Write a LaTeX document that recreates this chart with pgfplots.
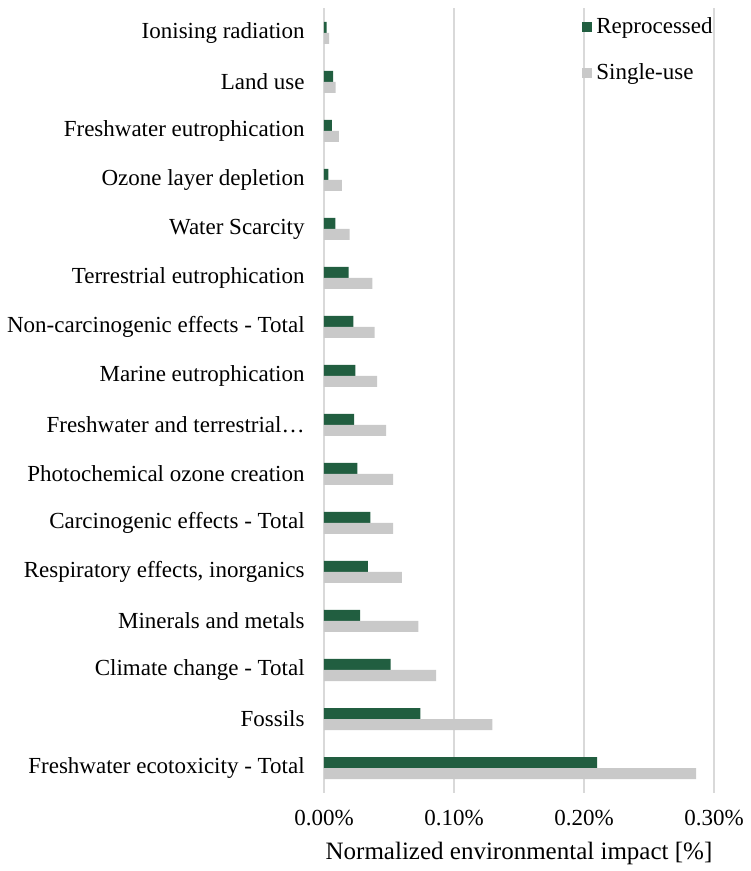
\documentclass[border=0pt]{standalone}
\usepackage{fontspec}
\setmainfont{Liberation Serif}
\usepackage{pgfplots}
\pgfplotsset{compat=1.18}
\definecolor{rep}{HTML}{215E40}
\definecolor{sgl}{HTML}{C9C9C9}
\definecolor{gridc}{HTML}{D9D9D9}
\newcommand{\ff}{\fontsize{11.5}{13.8}\selectfont}
\newcommand{\fl}{\fontsize{12.5}{15}\selectfont}
\begin{document}
\begin{tikzpicture}
\begin{axis}[
  xbar, scale only axis, width=195pt, height=392pt,
  xmin=0, xmax=0.3,
  ymin=-0.5, ymax=15.5,
  ytick={0,...,15},
  yticklabels={Freshwater ecotoxicity - Total, Fossils, Climate change - Total, Minerals and metals, {Respiratory effects, inorganics}, Carcinogenic effects - Total, Photochemical ozone creation, Freshwater and terrestrial…, Marine eutrophication, Non-carcinogenic effects - Total, Terrestrial eutrophication, Water Scarcity, Ozone layer depletion, Freshwater eutrophication, Land use, Ionising radiation},
  xtick={0,0.1,0.2,0.3},
  xticklabels={0.00\%,0.10\%,0.20\%,0.30\%},
  xmajorgrids, grid style={gridc, line width=0.7pt},
  axis line style={draw=none},
  tick style={draw=none}, major tick length=0pt,
  yticklabel style={font=\ff, inner sep=0pt, xshift=-9.5pt},
  xticklabel style={font=\ff, inner sep=0pt, yshift=-8.5pt},
  xlabel={\fl Normalized environmental impact [\%]},
  xlabel style={inner sep=0pt, yshift=-8pt},
  bar width=5.5pt,
  legend style={at={(rel axis cs:1,1)}, anchor=north east, draw=none, fill=none,
    font=\ff, row sep=9.5pt, cells={anchor=west}, inner sep=1pt, yshift=-1.5pt, xshift=2.5pt},
  legend image code/.code={\fill[#1] (0pt,-2.5pt) rectangle (5pt,2.5pt);},
  clip=false,
]
\addplot[fill=rep, draw=none, bar shift=2.75pt] coordinates {
(0.210,0) (0.0741,1) (0.0513,2) (0.0277,3) (0.0338,4) (0.0356,5) (0.0256,6) (0.0231,7)
(0.0241,8) (0.0226,9) (0.019,10) (0.0087,11) (0.0033,12) (0.006,13) (0.007,14) (0.002,15)};
\addlegendentry{Reprocessed}
\addplot[fill=sgl, draw=none, bar shift=-2.75pt] coordinates {
(0.2862,0) (0.1295,1) (0.0862,2) (0.0726,3) (0.060,4) (0.0531,5) (0.0531,6) (0.0477,7)
(0.0408,8) (0.039,9) (0.0372,10) (0.0197,11) (0.0138,12) (0.0115,13) (0.009,14) (0.004,15)};
\addlegendentry{Single-use}
\path (rel axis cs:0,0) ++(-162pt,-39.25pt) coordinate (bl);
\path (rel axis cs:1,1) ++(18pt,4.25pt) coordinate (tr);
\end{axis}
\useasboundingbox (bl) rectangle (tr);
\end{tikzpicture}
\end{document}
